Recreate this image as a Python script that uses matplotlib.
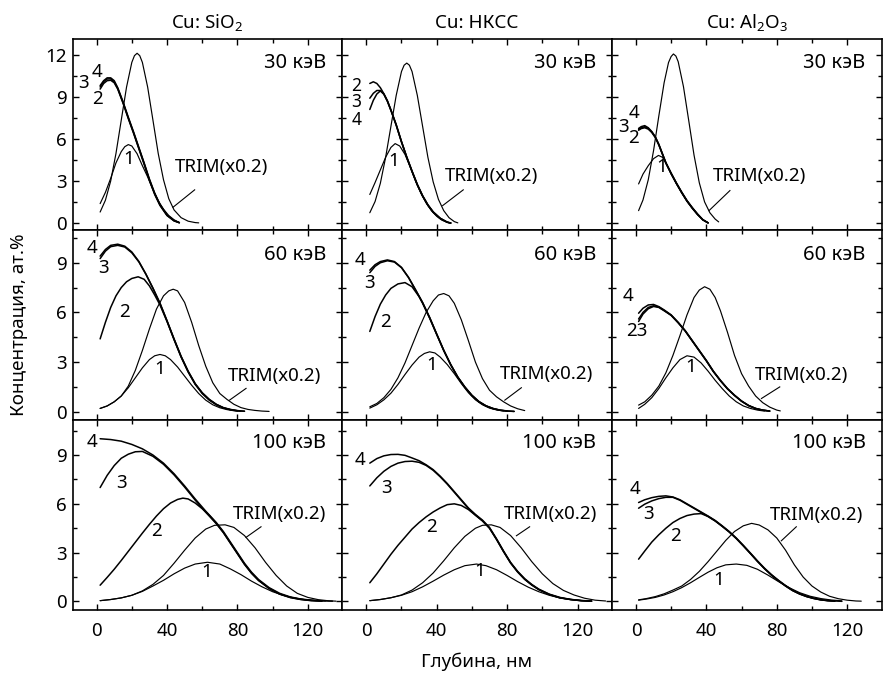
import matplotlib.pyplot as plt
from matplotlib.ticker import MultipleLocator

plt.rcParams['font.family'] = ['Noto Sans', 'DejaVu Sans']
plt.rcParams['mathtext.fontset'] = 'custom'
plt.rcParams['mathtext.rm'] = 'Noto Sans'
plt.rcParams['mathtext.default'] = 'rm'

columns = ['Cu: SiO$_2$', 'Cu: НКСС', 'Cu: Al$_2$O$_3$']
energies = ['30 кэВ', '60 кэВ', '100 кэВ']
curve_names = ['1', '2', '3', '4', 'TRIM']

# depth (nm), concentration (at.%); TRIM already scaled x0.2
# ---- 30 keV ----
sio2_30_1 = [(2, 1.4), (5, 2.2), (8, 3.2), (11, 4.3), (14, 5.1), (16, 5.45), (18, 5.6), (20, 5.5), (23, 4.95),
             (26, 4.1), (29, 3.3), (32, 2.4), (35, 1.6), (38, 1.0), (41, 0.55), (44, 0.25), (47, 0.05)]
sio2_30_2 = [(2, 9.55), (4, 9.95), (6, 10.15), (8, 10.18), (10, 10.0), (12, 9.55), (15, 8.55), (18, 7.45), (21, 6.4),
             (24, 5.3), (27, 4.2), (30, 3.05), (33, 2.05), (36, 1.27), (40, 0.55), (44, 0.17), (47, 0.04)]
sio2_30_3 = [(2, 9.7), (4, 10.08), (6, 10.27), (8, 10.28), (10, 10.08), (12, 9.6), (15, 8.6), (18, 7.5), (21, 6.45),
             (24, 5.35), (27, 4.25), (30, 3.1), (33, 2.1), (36, 1.3), (40, 0.57), (44, 0.18), (47, 0.04)]
sio2_30_4 = [(2, 9.8), (4, 10.15), (6, 10.35), (8, 10.35), (10, 10.15), (12, 9.65), (15, 8.65), (18, 7.55), (21, 6.5),
             (24, 5.4), (27, 4.3), (30, 3.15), (33, 2.15), (36, 1.35), (40, 0.6), (44, 0.2), (47, 0.05)]
sio2_30_trim = [(2, 0.8), (5, 1.64), (8, 3.01), (11, 4.97), (14, 7.34), (17, 9.69), (20, 11.45), (21.5, 11.93),
                (23, 12.1), (24.5, 11.93), (26, 11.45), (29, 9.69), (32, 7.34), (35, 4.97), (38, 3.1), (41, 1.75),
                (44, 0.95), (48, 0.4), (52, 0.15), (56, 0.05), (58, 0.03)]

hkcc_30_1 = [(2, 2.05), (5, 2.9), (8, 3.8), (11, 4.7), (14, 5.4), (16.4, 5.67), (19, 5.5), (22, 4.9), (25, 4.0),
             (28, 3.0), (31, 2.15), (34, 1.45), (37, 0.9), (40, 0.5), (43, 0.22), (46, 0.07), (48, 0.02)]
hkcc_30_2 = [(2, 9.95), (4, 10.07), (6, 9.95), (8, 9.65), (10, 9.22), (12, 8.72), (14, 8.07), (17, 7.02), (20, 5.82),
             (23, 4.72), (26, 3.72), (29, 2.77), (32, 1.97), (35, 1.32), (38, 0.82), (42, 0.36), (46, 0.08), (48, 0.02)]
hkcc_30_3 = [(2, 8.9), (4, 9.25), (6, 9.45), (8, 9.45), (10, 9.2), (12, 8.7), (14, 8.05), (17, 7.0), (20, 5.8),
             (23, 4.7), (26, 3.7), (29, 2.75), (32, 1.95), (35, 1.3), (38, 0.8), (42, 0.35), (46, 0.08), (48, 0.02)]
hkcc_30_4 = [(2, 8.1), (4, 8.75), (6, 9.2), (8, 9.42), (10, 9.18), (12, 8.68), (14, 8.03), (17, 6.98), (20, 5.78),
             (23, 4.68), (26, 3.68), (29, 2.73), (32, 1.93), (35, 1.28), (38, 0.78), (42, 0.34), (46, 0.07), (48, 0.02)]
hkcc_30_trim = [(2, 0.75), (5, 1.55), (8, 2.85), (11, 4.7), (14, 6.9), (17, 9.1), (20, 10.8), (21.5, 11.25),
                (23, 11.4), (24.5, 11.25), (26, 10.8), (29, 9.1), (32, 6.9), (35, 4.7), (38, 2.95), (41, 1.7),
                (44, 0.9), (47, 0.4), (50, 0.12), (52, 0.03)]

al2o3_30_1 = [(1.5, 2.8), (4, 3.5), (7, 4.1), (10, 4.6), (12.8, 4.83), (15, 4.7), (17, 4.3), (20, 3.5), (23, 2.8),
              (26, 2.15), (29, 1.55), (32, 1.05), (35, 0.6), (38, 0.25), (41, 0.03)]
al2o3_30_2 = [(1.5, 6.62), (3, 6.74), (5, 6.8), (7, 6.7), (9, 6.46), (11, 6.1), (13, 5.57), (15, 4.92), (17, 4.28),
              (20, 3.53), (23, 2.83), (26, 2.18), (29, 1.58), (32, 1.08), (35, 0.63), (38, 0.24), (41, 0.03)]
al2o3_30_3 = [(1.5, 6.68), (3, 6.8), (5, 6.87), (7, 6.75), (9, 6.5), (11, 6.13), (13, 5.6), (15, 4.95), (17, 4.3),
              (20, 3.55), (23, 2.85), (26, 2.2), (29, 1.6), (32, 1.1), (35, 0.65), (38, 0.25), (41, 0.03)]
al2o3_30_4 = [(1.5, 6.75), (3, 6.88), (5, 6.95), (7, 6.8), (9, 6.53), (11, 6.16), (13, 5.62), (15, 4.97), (17, 4.32),
              (20, 3.57), (23, 2.87), (26, 2.22), (29, 1.62), (32, 1.12), (35, 0.66), (38, 0.26), (41, 0.03)]
al2o3_30_trim = [(1.5, 0.9), (4, 1.66), (7, 3.1), (10, 5.17), (13, 7.64), (16, 10.0), (18.5, 11.44), (20, 11.87),
                 (21.3, 12.05), (22.7, 11.9), (24, 11.5), (27, 9.72), (30, 7.3), (33, 4.85), (36, 2.88), (39, 1.52),
                 (42, 0.75), (45, 0.3), (47, 0.1)]

# ---- 60 keV ----
sio2_60_1 = [(2, 0.2), (6, 0.35), (10, 0.6), (14, 0.95), (18, 1.45), (22, 2.05), (26, 2.65), (30, 3.15), (33, 3.38),
             (36, 3.46), (39, 3.38), (42, 3.15), (46, 2.7), (50, 2.15), (54, 1.6), (58, 1.1), (62, 0.7), (66, 0.42),
             (70, 0.24), (74, 0.13), (78, 0.06), (82, 0.03)]
sio2_60_2 = [(2, 4.4), (5, 5.4), (8, 6.3), (11, 7.0), (14, 7.5), (17, 7.85), (20, 8.05), (23.6, 8.15), (27, 8.0),
             (30, 7.6), (33, 7.05), (36, 6.45), (40, 5.45), (44, 4.35), (48, 3.3), (52, 2.4), (56, 1.65), (60, 1.1),
             (64, 0.7), (68, 0.42), (72, 0.23), (76, 0.12), (80, 0.05)]
sio2_60_3 = [(2, 9.25), (5, 9.7), (8, 9.97), (12, 10.05), (16, 9.95), (20, 9.6), (24, 9.05), (28, 8.3), (32, 7.45),
             (36, 6.54), (40, 5.48), (44, 4.38), (48, 3.33), (52, 2.43), (56, 1.68), (60, 1.13), (64, 0.73),
             (68, 0.44), (72, 0.24), (76, 0.13), (80, 0.06), (84, 0.03)]
sio2_60_4 = [(2, 9.4), (5, 9.8), (8, 10.05), (12, 10.12), (16, 10.0), (20, 9.65), (24, 9.08), (28, 8.32), (32, 7.47),
             (36, 6.56), (40, 5.5), (44, 4.4), (48, 3.35), (52, 2.45), (56, 1.7), (60, 1.15), (64, 0.75), (68, 0.45),
             (72, 0.25), (76, 0.14), (80, 0.07), (84, 0.03)]
sio2_60_trim = [(2, 0.2), (6, 0.35), (10, 0.6), (14, 0.95), (18, 1.55), (22, 2.5), (26, 3.7), (30, 5.0), (34, 6.2),
                (38, 7.0), (41, 7.3), (43.5, 7.4), (46, 7.3), (50, 6.6), (54, 5.4), (58, 4.0), (62, 2.75), (66, 1.75),
                (70, 1.1), (74, 0.75), (78, 0.45), (82, 0.25), (86, 0.14), (90, 0.08), (94, 0.04), (98, 0.02)]

hkcc_60_1 = [(2, 0.22), (6, 0.42), (10, 0.72), (14, 1.12), (18, 1.65), (22, 2.25), (26, 2.82), (30, 3.3), (33, 3.52),
             (36, 3.62), (39, 3.55), (42, 3.3), (46, 2.85), (50, 2.3), (54, 1.7), (58, 1.15), (62, 0.72), (66, 0.42),
             (70, 0.22), (74, 0.11), (78, 0.05)]
hkcc_60_2 = [(2, 4.85), (5, 5.75), (8, 6.5), (11, 7.05), (14, 7.45), (18, 7.72), (22, 7.8), (26, 7.55), (30, 6.95),
             (32, 6.55), (36, 5.65), (40, 4.67), (44, 3.7), (48, 2.83), (52, 2.08), (56, 1.48), (60, 0.98),
             (64, 0.6), (68, 0.35), (72, 0.19), (76, 0.09), (80, 0.04)]
hkcc_60_3 = [(2, 8.4), (5, 8.78), (8, 9.0), (12, 9.12), (16, 9.04), (20, 8.7), (24, 8.1), (28, 7.35), (32, 6.58),
             (36, 5.68), (40, 4.68), (44, 3.7), (48, 2.83), (52, 2.08), (56, 1.48), (60, 0.98), (64, 0.6), (68, 0.35),
             (72, 0.19), (76, 0.09), (80, 0.04), (84, 0.02)]
hkcc_60_4 = [(2, 8.55), (5, 8.88), (8, 9.07), (12, 9.17), (16, 9.07), (20, 8.72), (24, 8.12), (28, 7.37), (32, 6.6),
             (36, 5.7), (40, 4.7), (44, 3.72), (48, 2.85), (52, 2.1), (56, 1.5), (60, 1.0), (64, 0.62), (68, 0.36),
             (72, 0.2), (76, 0.1), (80, 0.05), (84, 0.02)]
hkcc_60_trim = [(2, 0.3), (6, 0.5), (10, 0.85), (14, 1.35), (18, 2.05), (22, 2.95), (26, 4.0), (30, 5.05), (34, 6.0),
                (38, 6.7), (41, 7.05), (44, 7.14), (47, 7.0), (50, 6.55), (54, 5.55), (58, 4.3), (62, 3.0), (66, 2.0),
                (70, 1.3), (74, 0.9), (78, 0.6), (82, 0.35), (86, 0.18), (90, 0.07)]

al2o3_60_1 = [(1.5, 0.2), (5, 0.45), (9, 0.85), (13, 1.4), (17, 2.05), (21, 2.65), (25, 3.15), (29, 3.38), (33, 3.3),
              (37, 2.95), (41, 2.45), (45, 1.9), (49, 1.4), (53, 0.95), (57, 0.6), (61, 0.35), (65, 0.2), (69, 0.1),
              (73, 0.04)]
al2o3_60_2 = [(1.5, 5.45), (4, 5.9), (7, 6.22), (10, 6.36), (13, 6.3), (16, 6.1), (20, 5.82), (24, 5.37), (28, 4.87),
              (32, 4.27), (36, 3.67), (40, 3.07), (44, 2.42), (48, 1.87), (52, 1.38), (56, 0.98), (60, 0.63),
              (64, 0.37), (68, 0.19), (72, 0.09), (76, 0.04)]
al2o3_60_3 = [(1.5, 5.6), (4, 6.0), (7, 6.3), (10, 6.4), (13, 6.32), (16, 6.12), (20, 5.83), (24, 5.38), (28, 4.88),
              (32, 4.28), (36, 3.68), (40, 3.08), (44, 2.43), (48, 1.88), (52, 1.39), (56, 0.99), (60, 0.64),
              (64, 0.37), (68, 0.2), (72, 0.1), (76, 0.04)]
al2o3_60_4 = [(1.5, 5.95), (4, 6.25), (7, 6.45), (10, 6.48), (13, 6.35), (16, 6.15), (20, 5.85), (24, 5.4), (28, 4.9),
              (32, 4.3), (36, 3.7), (40, 3.1), (44, 2.45), (48, 1.9), (52, 1.4), (56, 1.0), (60, 0.65), (64, 0.38),
              (68, 0.2), (72, 0.1), (76, 0.04)]
al2o3_60_trim = [(1.5, 0.4), (5, 0.6), (9, 1.0), (13, 1.55), (17, 2.35), (21, 3.4), (25, 4.6), (29, 5.85), (33, 6.9),
                 (36, 7.35), (39, 7.55), (42, 7.4), (45, 6.9), (48, 6.1), (52, 4.8), (56, 3.4), (60, 2.3), (64, 1.55),
                 (68, 0.95), (72, 0.55), (76, 0.28), (80, 0.1), (82, 0.05)]

# ---- 100 keV ----
sio2_100_1 = [(2, 0.05), (8, 0.12), (14, 0.22), (20, 0.38), (26, 0.62), (32, 0.95), (38, 1.3), (44, 1.7), (50, 2.05),
              (56, 2.3), (63, 2.41), (70, 2.3), (76, 2.0), (82, 1.65), (88, 1.25), (94, 0.9), (100, 0.6), (106, 0.38),
              (112, 0.22), (118, 0.12), (124, 0.06), (130, 0.03)]
sio2_100_2 = [(2, 1.0), (6, 1.48), (10, 1.98), (14, 2.52), (18, 3.08), (22, 3.64), (26, 4.2), (30, 4.74), (34, 5.25),
              (38, 5.7), (42, 6.05), (46, 6.27), (49, 6.35), (52, 6.3), (56, 6.05), (60, 5.7), (64, 5.3), (68, 4.8),
              (72, 4.25), (76, 3.6), (80, 2.95), (84, 2.3), (88, 1.75), (92, 1.3), (98, 0.8), (104, 0.45),
              (110, 0.24), (116, 0.12), (122, 0.05), (128, 0.02)]
sio2_100_3 = [(2, 7.0), (6, 7.75), (10, 8.35), (14, 8.8), (18, 9.05), (22, 9.2), (26, 9.22), (32, 8.92), (38, 8.43),
              (44, 7.78), (50, 7.03), (56, 6.23), (62, 5.48), (68, 4.78), (72, 4.23), (76, 3.58), (80, 2.93),
              (84, 2.28), (88, 1.73), (92, 1.29), (98, 0.8), (104, 0.46), (110, 0.25), (116, 0.13), (122, 0.06),
              (128, 0.03)]
sio2_100_4 = [(2, 10.0), (8, 9.95), (14, 9.85), (20, 9.65), (26, 9.38), (32, 9.0), (38, 8.5), (44, 7.85), (50, 7.1),
              (56, 6.3), (62, 5.55), (68, 4.85), (72, 4.3), (76, 3.65), (80, 3.0), (84, 2.35), (88, 1.8), (92, 1.35),
              (98, 0.85), (104, 0.5), (110, 0.28), (116, 0.15), (122, 0.08), (128, 0.04), (134, 0.02)]
sio2_100_trim = [(2, 0.05), (8, 0.12), (14, 0.22), (20, 0.38), (26, 0.65), (32, 1.05), (38, 1.6), (44, 2.35),
                 (50, 3.15), (56, 3.9), (62, 4.45), (67, 4.68), (73, 4.71), (78, 4.55), (84, 4.05), (90, 3.3),
                 (96, 2.4), (102, 1.6), (108, 0.95), (114, 0.5), (120, 0.25), (126, 0.11), (132, 0.04), (136, 0.02)]

hkcc_100_1 = [(2, 0.05), (8, 0.12), (14, 0.23), (20, 0.38), (26, 0.6), (32, 0.9), (38, 1.25), (44, 1.62), (50, 1.95),
              (56, 2.2), (62.6, 2.3), (68, 2.2), (74, 1.95), (80, 1.6), (86, 1.22), (92, 0.88), (98, 0.6),
              (104, 0.38), (110, 0.22), (116, 0.12), (122, 0.06), (128, 0.02)]
hkcc_100_2 = [(2, 1.15), (6, 1.7), (10, 2.3), (14, 2.9), (18, 3.45), (22, 3.95), (26, 4.45), (30, 4.85), (34, 5.2),
              (38, 5.5), (42, 5.75), (46, 5.95), (50, 6.0), (54, 5.9), (58, 5.65), (62, 5.3), (66, 4.95), (70, 4.5),
              (74, 3.82), (78, 3.07), (82, 2.37), (86, 1.82), (90, 1.37), (94, 1.02), (98, 0.73), (104, 0.42),
              (110, 0.22), (116, 0.12), (122, 0.05), (128, 0.02)]
hkcc_100_3 = [(2, 7.1), (6, 7.6), (10, 8.0), (14, 8.3), (18, 8.5), (22, 8.6), (26, 8.62), (30, 8.55), (34, 8.36),
              (38, 8.06), (42, 7.66), (46, 7.21), (50, 6.71), (54, 6.21), (58, 5.71), (62, 5.31), (66, 4.96),
              (70, 4.51), (74, 3.81), (78, 3.06), (82, 2.36), (86, 1.81), (90, 1.36), (94, 1.01), (98, 0.73),
              (104, 0.43), (110, 0.23), (116, 0.12), (122, 0.05), (128, 0.02)]
hkcc_100_4 = [(2, 8.5), (6, 8.78), (10, 8.95), (14, 9.03), (18, 9.04), (22, 8.98), (26, 8.82), (30, 8.65), (34, 8.4),
              (38, 8.1), (42, 7.7), (46, 7.25), (50, 6.75), (54, 6.25), (58, 5.75), (62, 5.35), (66, 5.0), (70, 4.55),
              (74, 3.85), (78, 3.1), (82, 2.4), (86, 1.85), (90, 1.4), (94, 1.05), (98, 0.76), (104, 0.45),
              (110, 0.25), (116, 0.13), (122, 0.06), (128, 0.03)]
hkcc_100_trim = [(2, 0.05), (8, 0.12), (14, 0.23), (20, 0.4), (26, 0.7), (32, 1.15), (38, 1.75), (44, 2.5), (50, 3.3),
                 (56, 4.0), (62, 4.5), (66, 4.68), (71, 4.71), (76, 4.55), (82, 4.05), (88, 3.3), (94, 2.45),
                 (100, 1.7), (106, 1.1), (112, 0.68), (118, 0.4), (124, 0.2), (130, 0.08), (136, 0.03)]

al2o3_100_1 = [(1.5, 0.08), (6, 0.15), (11, 0.25), (16, 0.4), (21, 0.6), (26, 0.85), (31, 1.15), (36, 1.48), (41, 1.8),
               (46, 2.07), (51, 2.25), (57, 2.3), (63, 2.22), (69, 1.98), (75, 1.62), (81, 1.22), (87, 0.85),
               (93, 0.54), (99, 0.32), (105, 0.18), (111, 0.09), (117, 0.04)]
al2o3_100_2 = [(1.5, 2.6), (5, 3.1), (9, 3.65), (13, 4.1), (17, 4.5), (21, 4.85), (25, 5.1), (29, 5.28), (33, 5.37),
               (37, 5.4), (41, 5.22), (45, 4.95), (49, 4.62), (53, 4.27), (57, 3.87), (61, 3.42), (65, 2.95),
               (69, 2.47), (73, 2.02), (77, 1.62), (81, 1.27), (85, 0.95), (89, 0.67), (93, 0.46), (97, 0.3),
               (101, 0.18), (105, 0.1), (109, 0.05), (113, 0.02)]
al2o3_100_3 = [(1.5, 5.73), (5, 5.98), (9, 6.18), (13, 6.32), (17, 6.4), (21, 6.4), (25, 6.22), (29, 5.97), (33, 5.72),
               (37, 5.47), (41, 5.22), (45, 4.95), (49, 4.62), (53, 4.27), (57, 3.87), (61, 3.42), (65, 2.95),
               (69, 2.47), (73, 2.02), (77, 1.62), (81, 1.27), (85, 0.95), (89, 0.67), (93, 0.46), (97, 0.3),
               (101, 0.19), (105, 0.1), (109, 0.05), (113, 0.02)]
al2o3_100_4 = [(1.5, 6.08), (5, 6.25), (9, 6.38), (13, 6.46), (17, 6.49), (21, 6.42), (25, 6.25), (29, 6.0), (33, 5.75),
               (37, 5.5), (41, 5.25), (45, 4.98), (49, 4.65), (53, 4.3), (57, 3.9), (61, 3.45), (65, 2.98), (69, 2.5),
               (73, 2.05), (77, 1.65), (81, 1.3), (85, 0.98), (89, 0.7), (93, 0.48), (97, 0.32), (101, 0.2),
               (105, 0.11), (109, 0.06), (113, 0.03), (117, 0.01)]
al2o3_100_trim = [(1.5, 0.1), (6, 0.18), (11, 0.3), (16, 0.47), (21, 0.7), (26, 0.95), (31, 1.35), (36, 1.85),
                  (41, 2.45), (46, 3.1), (51, 3.75), (56, 4.3), (61, 4.65), (65.7, 4.8), (70, 4.7), (75, 4.4),
                  (80, 3.9), (85, 3.15), (90, 2.25), (95, 1.5), (100, 0.95), (105, 0.58), (110, 0.32), (115, 0.17),
                  (120, 0.08), (125, 0.03), (128, 0.02)]

profiles = [
    [[sio2_30_1, sio2_30_2, sio2_30_3, sio2_30_4, sio2_30_trim],
     [hkcc_30_1, hkcc_30_2, hkcc_30_3, hkcc_30_4, hkcc_30_trim],
     [al2o3_30_1, al2o3_30_2, al2o3_30_3, al2o3_30_4, al2o3_30_trim]],
    [[sio2_60_1, sio2_60_2, sio2_60_3, sio2_60_4, sio2_60_trim],
     [hkcc_60_1, hkcc_60_2, hkcc_60_3, hkcc_60_4, hkcc_60_trim],
     [al2o3_60_1, al2o3_60_2, al2o3_60_3, al2o3_60_4, al2o3_60_trim]],
    [[sio2_100_1, sio2_100_2, sio2_100_3, sio2_100_4, sio2_100_trim],
     [hkcc_100_1, hkcc_100_2, hkcc_100_3, hkcc_100_4, hkcc_100_trim],
     [al2o3_100_1, al2o3_100_2, al2o3_100_3, al2o3_100_4, al2o3_100_trim]],
]

# curve number labels (text, x, y, size) and TRIM label/pointer placement per panel
curve_labels = [
    [[('3', -7.5, 10.0, 13.5), ('4', 0.0, 10.75, 13.5), ('2', 0.4, 8.85, 13.5), ('1', 18, 4.6, 13.5)],
     [('2', -5.7, 9.75, 12.5), ('3', -5.7, 8.6, 12.5), ('4', -5.7, 7.35, 12.5), ('1', 15.8, 4.4, 13.5)],
     [('3', -7, 6.86, 13.5), ('4', -1.3, 7.85, 13.5), ('2', -1.3, 6.05, 13.5), ('1', 14.7, 4.0, 13.5)]],
    [[('4', -2.8, 9.86, 13.5), ('3', 3.8, 8.7, 13.5), ('2', 16, 6.0, 13.5), ('1', 35.8, 2.6, 13.5)],
     [('4', -3.4, 9.15, 13.5), ('3', 1.7, 7.75, 13.5), ('2', 10.8, 5.43, 13.5), ('1', 37.2, 2.8, 13.5)],
     [('4', -4.5, 7.0, 13.5), ('23', 0.6, 4.87, 13.5), ('1', 31.3, 2.7, 13.5)]],
    [[('4', -2.8, 9.8, 13.5), ('3', 14.2, 7.3, 13.5), ('2', 34.3, 4.35, 13.5), ('1', 62.3, 1.8, 13.5)],
     [('4', -3.8, 8.67, 13.5), ('3', 11.3, 7.0, 13.5), ('2', 37.2, 4.55, 13.5), ('1', 64.5, 1.9, 13.5)],
     [('4', -0.75, 6.9, 13.5), ('3', 7.2, 5.37, 13.5), ('2', 22.3, 4.04, 13.5), ('1', 46.8, 1.33, 13.5)]],
]
trim_text = [
    [(70.8, 4.0), (71.1, 3.36), (70.4, 3.4)],
    [(101, 2.17), (102.6, 2.27), (94.3, 2.2)],
    [(104.2, 5.37), (104.5, 5.4), (102.8, 5.3)],
]
trim_pointer = [
    [[(55.7, 43.4), (2.38, 1.14)], [(55.1, 43.4), (2.38, 1.26)], [(53.4, 41.5), (2.33, 0.9)]],
    [[(84.9, 75.5), (1.41, 0.7)], [(88.1, 78.7), (1.45, 0.7)], [(81.7, 71.3), (1.5, 0.8)]],
    [[(93.4, 84.9), (4.59, 3.94)], [(92.8, 85.3), (4.59, 4.04)], [(91.1, 82.6), (4.59, 3.73)]],
]
energy_y = [11.38, 9.46, 9.76]
row_ylim = [(-0.45, 13.1), (-0.5, 11.0), (-0.55, 11.15)]
row_yticks = [[0, 3, 6, 9, 12], [0, 3, 6, 9], [0, 3, 6, 9]]

fig, axes = plt.subplots(3, 3, figsize=(8.83, 6.76), dpi=100, sharex=True)
fig.subplots_adjust(left=0.0823, right=0.9985, top=0.942, bottom=0.097, wspace=0, hspace=0)

fs = 13.5
for r in range(3):
    for c in range(3):
        ax = axes[r][c]
        for name, prof in zip(curve_names, profiles[r][c]):
            xs = [p[0] for p in prof]
            ys = [p[1] for p in prof]
            lw = 0.85 if name in ('1', 'TRIM') else 1.1
            ax.plot(xs, ys, color='black', lw=lw, solid_capstyle='round', solid_joinstyle='round')

        for txt, lx, ly, size in curve_labels[r][c]:
            ax.text(lx, ly, txt, ha='center', va='center', fontsize=size)
        tx, ty = trim_text[r][c]
        ax.text(tx, ty, 'TRIM(x0.2)', ha='center', va='center', fontsize=13.5)
        px, py = trim_pointer[r][c]
        ax.plot(px, py, color='black', lw=0.8)
        ax.text(130.5, energy_y[r], energies[r], ha='right', va='center', fontsize=14.5)

        ax.set_xlim(-13.6, 139.6)
        ax.set_ylim(*row_ylim[r])
        ax.set_yticks(row_yticks[r])
        ax.xaxis.set_major_locator(MultipleLocator(40))
        ax.xaxis.set_minor_locator(MultipleLocator(20))
        ax.yaxis.set_minor_locator(MultipleLocator(1.5))
        ax.tick_params(which='both', direction='in', top=True, right=True, width=1,
                       labelsize=fs, labelleft=(c == 0), labelbottom=(r == 2))
        ax.tick_params(which='major', length=4.5)
        ax.tick_params(which='minor', length=3)
        ax.tick_params(axis='x', pad=8)
        ax.tick_params(axis='y', pad=4)
        for sp in ax.spines.values():
            sp.set_linewidth(1.2)
        if r == 0:
            ax.set_title(columns[c], fontsize=fs, pad=8)

fig.text(0.021, 0.52, 'Концентрация, ат.%', rotation=90, ha='center', va='center', fontsize=fs)
fig.text(0.54, 0.021, 'Глубина, нм', ha='center', va='center', fontsize=fs)

fig.savefig('out.png', dpi=100)
